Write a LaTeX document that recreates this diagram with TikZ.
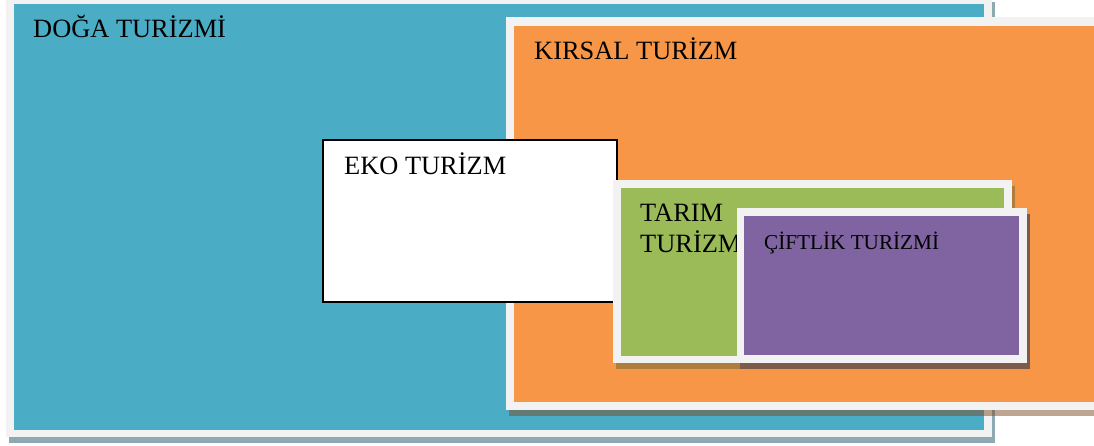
\documentclass[tikz,border=0pt]{standalone}
\usepackage{fontspec}
\setmainfont{Liberation Serif}
\definecolor{cblue}{HTML}{4BACC6}
\definecolor{corange}{HTML}{F79646}
\definecolor{cgreen}{HTML}{9BBB59}
\definecolor{cpurple}{HTML}{8064A2}
\definecolor{cframe}{HTML}{F2F2F2}
\definecolor{shblue}{HTML}{8FA9B2}
\definecolor{shgreen}{HTML}{AE7E3C}
\definecolor{shpurple}{HTML}{7C5A4C}
\begin{document}
\begin{tikzpicture}[x=1pt,y=-1pt,
  frame/.style={fill=cframe},
  lbl/.style={anchor=base west,inner sep=0pt,font=\fontsize{26.4}{31}\selectfont},
  lblsmall/.style={anchor=base west,inner sep=0pt,font=\fontsize{21.2}{25}\selectfont}]
\useasboundingbox (0,0) rectangle (1094,446);
\clip (0,0) rectangle (1094,446);
% DOGA TURIZMI (blue)
\fill[shblue] (9,2) rectangle (995,443);
\fill[frame] (6,-4) rectangle (992,437);
\fill[cblue] (14,4) rectangle (984,430);
\node[lbl] (doga) at (33,38) {DOĞA TURİZMİ};
% KIRSAL TURIZM (orange)
\fill[black!50!corange,opacity=0.5] (509,23) rectangle (1113,416);
\fill[frame] (506,17) rectangle (1110,410);
\fill[corange] (514,26) rectangle (1110,402);
\node[lbl] (kirsal) at (534,60) {KIRSAL TURİZM};
% EKO TURIZM (white)
\draw[black,line width=1.5pt,fill=white] (323,140) rectangle (617,302);
\node[lbl] (eko) at (344,175) {EKO TURİZM};
% TARIM TURIZMI (green)
\fill[shgreen] (616,186) rectangle (1015,369);
\fill[frame] (613,180) rectangle (1012,363);
\fill[cgreen] (621,188) rectangle (1004,356);
\node[lbl] (tarim1) at (640,222) {TARIM};
\node[lbl] (tarim2) at (640,253) {TURİZM};
% CIFTLIK TURIZMI (purple)
\fill[shpurple] (740,214) rectangle (1030,369);
\fill[frame] (737,208) rectangle (1027,363);
\fill[cpurple] (744,216) rectangle (1019,355);
\node[lblsmall] (ciftlik) at (764,250) {ÇİFTLİK TURİZMİ};
\end{tikzpicture}
\end{document}
